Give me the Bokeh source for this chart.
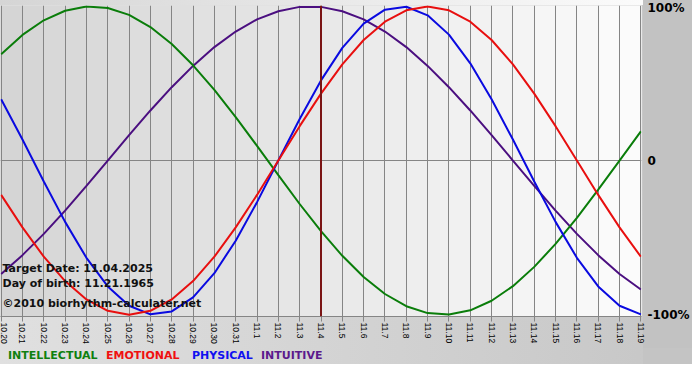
import math
from bokeh.plotting import figure
from bokeh.layouts import column
from bokeh.models import Range1d, FixedTicker, Span, Label, Div
from bokeh.embed import file_html
from bokeh.resources import INLINE

# ---- data ----
dates = ["10.20", "10.21", "10.22", "10.23", "10.24", "10.25", "10.26", "10.27",
         "10.28", "10.29", "10.30", "10.31", "11.1", "11.2", "11.3", "11.4",
         "11.5", "11.6", "11.7", "11.8", "11.9", "11.10", "11.11", "11.12",
         "11.13", "11.14", "11.15", "11.16", "11.17", "11.18", "11.19"]

physical = [0.398, 0.136, -0.136, -0.398, -0.631, -0.817, -0.942, -0.998,
            -0.979, -0.888, -0.731, -0.520, -0.270, 0.000, 0.270, 0.520,
            0.731, 0.888, 0.979, 0.998, 0.942, 0.817, 0.631, 0.398,
            0.136, -0.136, -0.398, -0.631, -0.817, -0.942, -0.998]

emotional = [-0.223, -0.434, -0.624, -0.782, -0.901, -0.975, -1.000, -0.975,
             -0.901, -0.782, -0.624, -0.434, -0.223, 0.000, 0.223, 0.434,
             0.624, 0.782, 0.901, 0.975, 1.000, 0.975, 0.901, 0.782,
             0.624, 0.434, 0.223, 0.000, -0.223, -0.434, -0.624]

intellectual = [0.690, 0.815, 0.910, 0.972, 0.999, 0.990, 0.945, 0.866,
                0.756, 0.618, 0.458, 0.282, 0.095, -0.095, -0.282, -0.458,
                -0.618, -0.756, -0.866, -0.945, -0.990, -0.999, -0.972, -0.910,
                -0.815, -0.690, -0.541, -0.372, -0.189, 0.000, 0.189]

intuitive = [-0.736, -0.614, -0.476, -0.325, -0.165, 0.000, 0.165, 0.325,
             0.476, 0.614, 0.736, 0.837, 0.916, 0.969, 0.997, 0.997,
             0.969, 0.916, 0.837, 0.736, 0.614, 0.476, 0.325, 0.165,
             0.000, -0.165, -0.325, -0.476, -0.614, -0.736, -0.837]

target_index = 15
target_text = "Target Date: 11.04.2025"
birth_text = "Day of birth: 11.21.1965"
credit_text = "\u00a92010 biorhythm-calculater.net"
y_ticks = [1, 0, -1]
y_tick_labels = ["100%", "0", "-100%"]
series_names = ["INTELLECTUAL", "EMOTIONAL", "PHYSICAL", "INTUITIVE"]

# ---- styles / layout ----
line_colors = {"INTELLECTUAL": "#0a7d0a", "EMOTIONAL": "#e80f0f",
               "PHYSICAL": "#0a0ae0", "INTUITIVE": "#4b0f80"}
legend_colors = {"INTELLECTUAL": "#0f800f", "EMOTIONAL": "#f01010",
                 "PHYSICAL": "#1010f0", "INTUITIVE": "#5c1a8c"}
legend_x = [8, 106, 192, 261]

W, H = 692, 364
LH = 16                 # legend strip height
MH = H - LH             # main figure height
BR = 49                 # right border (value labels)
BT = 5                  # top border
BB = 32                 # bottom border (x labels)
FW = W - BR
Y_LO, Y_HI = -1.012, 1.006

main_bg = (f"linear-gradient(to right, #d5d5d5, #fbfbfb) 0 0 / {FW}px {BT}px no-repeat, "
           f"linear-gradient(#c2c2c2, #c2c2c2) right top / {BR}px 100% no-repeat, "
           "linear-gradient(to right, #e0e0e0, #c6c6c6)")
legend_bg = (f"linear-gradient(#c4c4c4, #c4c4c4) right top / {BR}px 100% no-repeat, "
             "linear-gradient(to right, #e0e0e0, #c6c6c6)")

days = list(range(len(dates)))

p = figure(width=W, height=MH, output_backend="svg", toolbar_location=None,
           x_range=Range1d(-0.03, 30.03), y_range=Range1d(Y_LO, Y_HI),
           y_axis_location="right",
           min_border_left=0, min_border_top=BT,
           min_border_right=BR, min_border_bottom=BB,
           styles={"background": main_bg})
p.outline_line_color = None
p.background_fill_color = "#e6e6e6"
p.border_fill_alpha = 0

# background gradient of the plotting area (decoration only)
n = len(days) - 1
lefts, rights, cols = [], [], []
for i in range(n):
    g = int(round(213 + (251 - 213) * i / (n - 1)))
    lefts.append(i if i > 0 else -1)
    rights.append(i + 1 if i < n - 1 else n + 1)
    cols.append("#%02x%02x%02x" % (g, g, g))
bg = p.quad(left=lefts, right=rights, bottom=-2, top=2, fill_color=cols, line_color=None)
bg.level = "image"

# grids
p.xgrid.ticker = FixedTicker(ticks=days)
p.xgrid.grid_line_color = "#858585"
p.ygrid.ticker = FixedTicker(ticks=[0])
p.ygrid.grid_line_color = "#858585"

# x axis
ax = p.xaxis[0]
ax.ticker = FixedTicker(ticks=days)
ax.major_label_overrides = {i: d for i, d in enumerate(dates)}
ax.major_label_orientation = -math.pi / 2
ax.major_tick_out = 5
ax.major_tick_in = 0
ax.minor_tick_line_color = None
ax.axis_line_color = "#858585"
ax.major_tick_line_color = "#858585"
ax.major_label_standoff = 1
ax.major_label_text_font = "Liberation Sans"
ax.major_label_text_font_size = "8.5px"
ax.major_label_text_color = "#000000"

# y axis (right)
ay = p.yaxis[0]
ay.ticker = FixedTicker(ticks=y_ticks)
ay.major_label_overrides = {t: s for t, s in zip(y_ticks, y_tick_labels)}
ay.axis_line_color = None
ay.major_tick_line_color = None
ay.minor_tick_line_color = None
ay.major_tick_out = 0
ay.major_tick_in = 0
ay.major_label_standoff = 6
ay.major_label_text_font = "DejaVu Sans"
ay.major_label_text_font_style = "bold"
ay.major_label_text_font_size = "12px"
ay.major_label_text_color = "#000000"

# curves
for name, vals in zip(["INTUITIVE", "INTELLECTUAL", "PHYSICAL", "EMOTIONAL"],
                      [intuitive, intellectual, physical, emotional]):
    p.line(days, vals, line_width=2, line_color=line_colors[name])

# target date line
p.add_layout(Span(location=target_index, dimension="height",
                  line_color="#7a1414", line_width=2))

# texts inside the plot
for txt, yy in [(target_text, 48), (birth_text, 33), (credit_text, 13)]:
    p.add_layout(Label(x=2, y=yy, x_units="screen", y_units="screen", text=txt,
                       text_font="DejaVu Sans", text_font_style="bold",
                       text_font_size="11px", text_color="#111111",
                       text_baseline="middle", text_align="left"))

# legend strip (coloured series names)
spans = "".join(
    f'<span style="position:absolute;left:{lx}px;top:1px;color:{legend_colors[s]}">{s}</span>'
    for s, lx in zip(series_names, legend_x))
legend = Div(text=f'<div style="position:relative;width:{W}px;height:{LH}px;'
                  f"font-family:'DejaVu Sans';font-weight:bold;font-size:11px;"
                  f'line-height:14px;white-space:nowrap">{spans}</div>',
             width=W, height=LH, margin=(0, 0, 0, 0),
             styles={"background": legend_bg})

layout = column(p, legend, spacing=0)
open("out.html", "w").write(file_html(layout, INLINE))
